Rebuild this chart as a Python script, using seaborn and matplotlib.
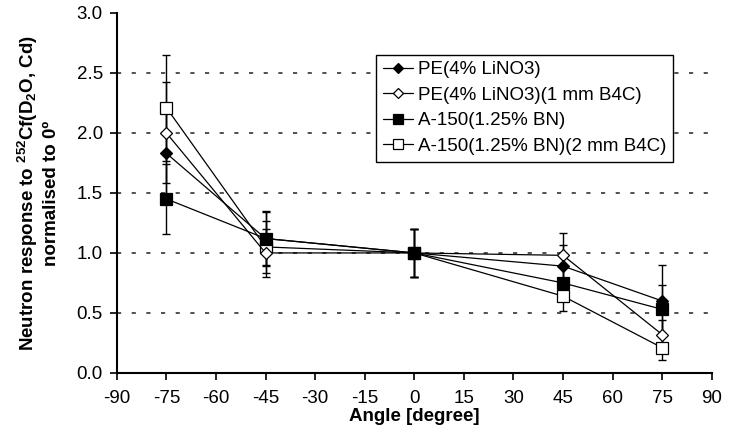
import numpy as np
import pandas as pd
import seaborn as sns
import matplotlib.pyplot as plt

# data
angles = [-75, -45, 0, 45, 75]
labels = ['PE(4% LiNO3)', 'PE(4% LiNO3)(1 mm B4C)',
          'A-150(1.25% BN)', 'A-150(1.25% BN)(2 mm B4C)']

pe = [1.83, 1.12, 1.0, 0.89, 0.60]
pe_b4c = [2.00, 1.00, 1.0, 0.98, 0.32]
a150 = [1.45, 1.12, 1.0, 0.75, 0.53]
a150_b4c = [2.21, 1.05, 1.0, 0.64, 0.21]

pe_err = [0.35, 0.22, 0.2, 0.18, 0.30]
pe_b4c_err = [0.42, 0.20, 0.2, 0.19, 0.12]
a150_err = [0.29, 0.23, 0.2, 0.15, 0.20]
a150_b4c_err = [0.44, 0.22, 0.2, 0.12, 0.10]

sns.set_style('ticks')
plt.rcParams['font.family'] = ['Liberation Sans', 'DejaVu Sans']
plt.rcParams['mathtext.fontset'] = 'custom'
plt.rcParams['mathtext.rm'] = 'Liberation Sans'
plt.rcParams['mathtext.bf'] = 'Liberation Sans:bold'
plt.rcParams['mathtext.default'] = 'bf'
plt.rcParams['axes.unicode_minus'] = False
plt.rcParams['text.color'] = 'black'
plt.rcParams['xtick.color'] = 'black'
plt.rcParams['ytick.color'] = 'black'
plt.rcParams['axes.labelcolor'] = 'black'

fig, ax = plt.subplots(figsize=(7.3, 4.44), dpi=100)
fig.subplots_adjust(left=0.160, right=0.975, top=0.971, bottom=0.160)

series = [
    (a150_b4c, a150_b4c_err, labels[3], 's', 'white', 9, 4),
    (pe_b4c, pe_b4c_err, labels[1], 'D', 'white', 6.5, 3),
    (pe, pe_err, labels[0], 'D', 'black', 6.5, 2),
    (a150, a150_err, labels[2], 's', 'black', 9, 1),
]

for vals, errs, lab, mk, fc, ms, order in series:
    df = pd.DataFrame({'angle': angles, 'value': vals})
    ax.errorbar(df['angle'], df['value'], yerr=errs, fmt='none',
                ecolor='black', elinewidth=1.0, capsize=3, capthick=1.0,
                zorder=2)
    sns.lineplot(data=df, x='angle', y='value', ax=ax, color='black',
                 linewidth=0.9, marker=mk, markersize=ms,
                 markerfacecolor=fc, markeredgecolor='black',
                 markeredgewidth=0.9, label=lab, zorder=3 + 4 - order)

ax.set_xlim(-90, 90)
ax.set_ylim(0, 3.0)
ax.set_xticks(np.arange(-90, 91, 15))
ax.set_yticks(np.arange(0, 3.01, 0.5))
ax.set_yticklabels([f'{v:.1f}' for v in np.arange(0, 3.01, 0.5)])
ax.tick_params(labelsize=13.5, width=1.2, length=5, direction='out')
ax.tick_params(axis='x', pad=7)
ax.tick_params(axis='y', pad=5)

for y in [0.5, 1.0, 1.5, 2.0, 2.5]:
    ax.axhline(y, color='#333333', linewidth=1.2, linestyle=(0, (2.5, 6.3)),
               zorder=0)

sns.despine(ax=ax)
ax.spines['left'].set_linewidth(1.5)
ax.spines['bottom'].set_linewidth(1.5)
ax.spines['left'].set_color('black')
ax.spines['bottom'].set_color('black')

ax.set_xlabel('Angle [degree]', fontsize=13.5, fontweight='bold', labelpad=1)
ax.set_ylabel('Neutron response to $^{252}$Cf(D$_2$O, Cd)\nnormalised to 0º',
              fontsize=13.5, fontweight='bold', labelpad=12)

handles, labs = ax.get_legend_handles_labels()
order_idx = [labs.index(l) for l in labels]
leg = ax.legend([handles[i] for i in order_idx], [labs[i] for i in order_idx],
                loc='upper left', bbox_to_anchor=(0.42, 0.91),
                fontsize=13.5, frameon=True, fancybox=False,
                edgecolor='black', handlelength=1.6, handletextpad=0.3,
                borderpad=0.35, labelspacing=0.45, markerscale=0.85)
leg.get_frame().set_linewidth(1.0)
leg.get_frame().set_alpha(1.0)

plt.savefig('out.png', dpi=100)
